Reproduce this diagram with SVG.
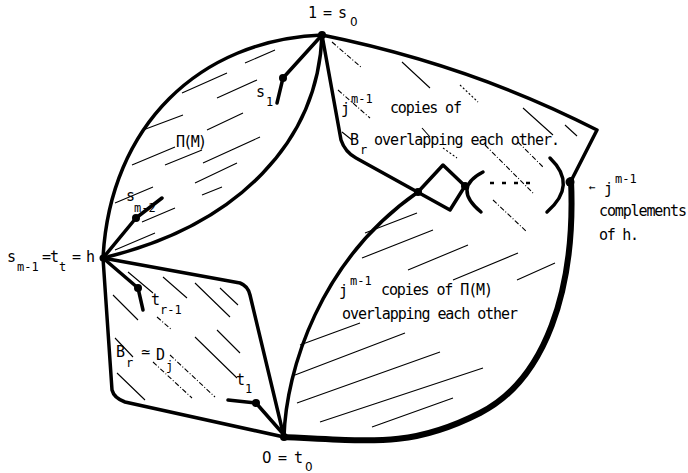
<svg xmlns="http://www.w3.org/2000/svg" width="688" height="473" viewBox="0 0 688 473">
<style>
.o{fill:none;stroke:#000;stroke-width:3.5;stroke-linecap:round;stroke-linejoin:round}
.k{fill:none;stroke:#000;stroke-width:6;stroke-linecap:round;stroke-linejoin:round}
.h{fill:none;stroke:#000;stroke-width:1.1}
.dd{stroke-dasharray:5 2 1 2}
.dt{stroke-dasharray:2 2}
.dot{fill:#000}
text{font-family:"DejaVu Sans Mono","Liberation Mono",monospace;font-size:15px;fill:#000}
.s{font-size:12px}
.z{font-family:"DejaVu Sans","Liberation Sans",sans-serif}
</style>
<rect width="688" height="473" fill="#fff"/>
<g id="connectors">
<path class="o" d="M322,35 C200,40 110,125 103,258"/>
<path class="o" d="M322,35 C318,140 240,225 103,258"/>
<path class="o" d="M103,258 L240,283 Q248,286 250,295 L284,437"/>
<path class="o" d="M103,258 L112,390 Q114,398 125,402 L284,437"/>
<path class="o" d="M322,35 Q470,65 597,130 L571,181"/>
<path class="o" d="M322,35 L341,140 Q345,152 356,158 L450,210 L465,186 L443,165 L418,192"/>
<path class="o" d="M284,437 C286,370 320,260 418,192"/>
<path class="o" d="M483,172 Q452,188 481,212"/>
<path class="o" d="M550,158 Q578,185 547,212"/>
<path fill="none" stroke="#000" stroke-width="2.5" stroke-dasharray="4 8" d="M490,183 L533,183"/>
<path class="k" d="M571,180 C576,290 545,380 480,413 S380,442 284,437"/>
<path class="o" d="M322,35 L283,78 L277,103"/>
<path class="o" d="M103,258 L136,218 L162,198"/>
<path class="o" d="M103,258 L138,288 L143,310"/>
<path class="o" d="M228,400 L256,403 L285,436"/>
</g>
<g id="dots">
<circle class="dot" cx="322" cy="35" r="4"/>
<circle class="dot" cx="103" cy="258" r="3.5"/>
<circle class="dot" cx="284" cy="437" r="4"/>
<circle class="dot" cx="283" cy="78" r="4"/>
<circle class="dot" cx="136" cy="218" r="4"/>
<circle class="dot" cx="138" cy="288" r="4"/>
<circle class="dot" cx="256" cy="403" r="4"/>
<circle class="dot" cx="418" cy="192" r="4"/>
<circle class="dot" cx="465" cy="186" r="4"/>
<circle class="dot" cx="570" cy="182" r="4.5"/>
</g>
<g id="hatch-pi">
<path class="h" d="M245,63 L275,50 M182,93 L227,73 M217,98 L257,80 M143,130 L183,115 M207,130 L243,113 M132,165 L175,147 M165,165 L202,150 M203,163 L260,137 M195,183 L237,163 M202,195 L222,187 M115,203 L153,187 M142,222 L175,208 M115,250 L155,233"/>
</g>
<g id="hatch-br">
<path class="h" d="M128,272 L153,293 M163,277 L187,298 M195,283 L230,317 M220,288 L238,305 M113,295 L138,320 M217,330 L240,353 M195,337 L237,378 M115,338 L133,357 M117,373 L145,400"/>
<path class="h dd" d="M157,317 L172,330 M170,355 L215,397 M153,362 L192,398"/>
</g>
<g id="hatch-upper">
<path class="h" d="M402,62 L430,88 M523,108 L553,135 M342,132 L352,140 M422,128 L430,137"/>
<path class="h" stroke-width="1.6" d="M565,125 L577,136"/>
<path class="h dd" d="M332,42 L362,68 M338,90 L370,118 M485,145 L533,193 M518,142 L543,167 M493,200 L527,232"/>
<path class="h dt" d="M460,85 L478,102 M443,148 L457,158"/>
</g>
<g id="hatch-lower">
<path class="h" d="M365,233 L417,213 M362,258 L433,230 M408,270 L468,245 M453,280 L518,253 M517,280 L555,263 M300,345 L360,323 M295,375 L405,333 M297,403 L440,352 M320,422 L483,368 M372,427 L453,398"/>
</g>
<g id="label-top"><text x="308" y="18" textLength="39">1 = s</text><text class="s z" x="350" y="26">0</text></g>
<g id="label-bottom"><text class="z" x="262" y="463">0</text><text x="278 286 294" y="463">= t</text><text class="s z" x="305" y="471">0</text></g>
<g id="label-s1"><text x="256" y="97">s</text><text class="s" x="266" y="106">1</text></g>
<g id="label-pi"><text x="176" y="147" textLength="31">Π(M)</text></g>
<g id="label-sm2"><text x="126" y="201">s</text><text class="s" x="134" y="212">m-2</text></g>
<g id="label-h"><text x="7" y="262">s</text><text class="s" x="17" y="271">m-1</text><text x="42 46 50" y="262">= t</text><text class="s" x="59" y="271">t</text><text x="72 79 86" y="262">= h</text></g>
<g id="label-tr1"><text x="151" y="305">t</text><text class="s" x="160" y="314">r-1</text></g>
<g id="label-br"><text x="116" y="357">B</text><text class="s" x="126" y="367">r</text><text x="141" y="357">≃</text><text x="156" y="360">D</text><text class="s" x="166" y="370">j</text></g>
<g id="label-t1"><text x="236" y="385">t</text><text class="s" x="245" y="393">1</text></g>
<g id="label-copies-br"><text x="341" y="114">j</text><text class="s" x="351" y="103">m-1</text><text x="390" y="113" textLength="72">copies of</text><text x="350" y="145">B</text><text class="s" x="360" y="154">r</text><text x="374" y="145" textLength="186">overlapping each other.</text></g>
<g id="label-complements"><text x="589" y="191" style="font-size:11px">←</text><text x="604" y="194">j</text><text class="s" x="615" y="183">m-1</text><text x="599" y="216" textLength="88">complements</text><text x="599" y="240" textLength="40">of h.</text></g>
<g id="label-copies-pi"><text x="339" y="296">j</text><text class="s" x="350" y="285">m-1</text><text x="381" y="295" textLength="112">copies of Π(M)</text><text x="342" y="319" textLength="176">overlapping each other</text></g>
</svg>
